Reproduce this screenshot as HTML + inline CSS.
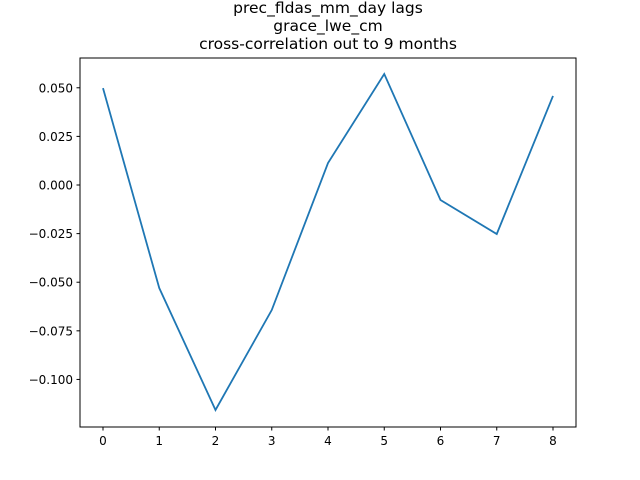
<!DOCTYPE html>
<html><head><meta charset="utf-8"><style>
body{margin:0;background:#fff;}
svg{display:block;font-family:"DejaVu Sans","Liberation Sans",sans-serif;}
</style></head><body>
<svg id="chart" width="640" height="480">
<rect width="640" height="480" fill="#fff"/>
<text x="328" y="13" font-size="15.5" text-anchor="middle">prec_fldas_mm_day lags</text>
<text x="328" y="31" font-size="15.5" text-anchor="middle">grace_lwe_cm</text>
<text x="328" y="49" font-size="15.5" text-anchor="middle">cross-correlation out to 9 months</text>
<g id="ticks"></g>
<polyline id="line" fill="none" stroke="#1f77b4" stroke-width="1.8"/>
<rect x="80" y="58" width="496" height="369" fill="none" stroke="#000" stroke-width="1"/>
</svg>
<script>
const lags = [0,1,2,3,4,5,6,7,8];
const corrValues = [0.0498,-0.0530,-0.1157,-0.0643,0.0113,0.0571,-0.0077,-0.0252,0.0458];
const yTicks = [0.050,0.025,0.000,-0.025,-0.050,-0.075,-0.100];
const yTickLabels = ["0.050","0.025","0.000","\u22120.025","\u22120.050","\u22120.075","\u22120.100"];
const xTicks = [0,1,2,3,4,5,6,7,8];

const NS="http://www.w3.org/2000/svg";
function xs(v){return 103+v*56.25;}
function ys(v){return 185-v*1944.4;}
const g=document.getElementById('ticks');
function mk(tag,attrs){const e=document.createElementNS(NS,tag);for(const k in attrs)e.setAttribute(k,attrs[k]);return e;}
xTicks.forEach(t=>{
  const l=mk('line',{x1:xs(t),x2:xs(t),y1:427,y2:430.5,stroke:'#000'});
  
  
  g.appendChild(l);
  const tx=mk('text',{x:xs(t),y:445,'font-size':'12','text-anchor':'middle'});
  tx.textContent=t;
  
  
  g.appendChild(tx);
});
yTicks.forEach((t,i)=>{
  const l=mk('line',{x1:76.5,x2:80,y1:ys(t),y2:ys(t),stroke:'#000'});
  
  
  g.appendChild(l);
  const tx=mk('text',{x:73,y:ys(t)+4.5,'font-size':'12','text-anchor':'end'});
  tx.textContent=yTickLabels[i];
  
  
  g.appendChild(tx);
});
document.getElementById('line').setAttribute('points',lags.map((x,i)=>xs(x)+','+ys(corrValues[i])).join(' '));
</script>
</body></html>
